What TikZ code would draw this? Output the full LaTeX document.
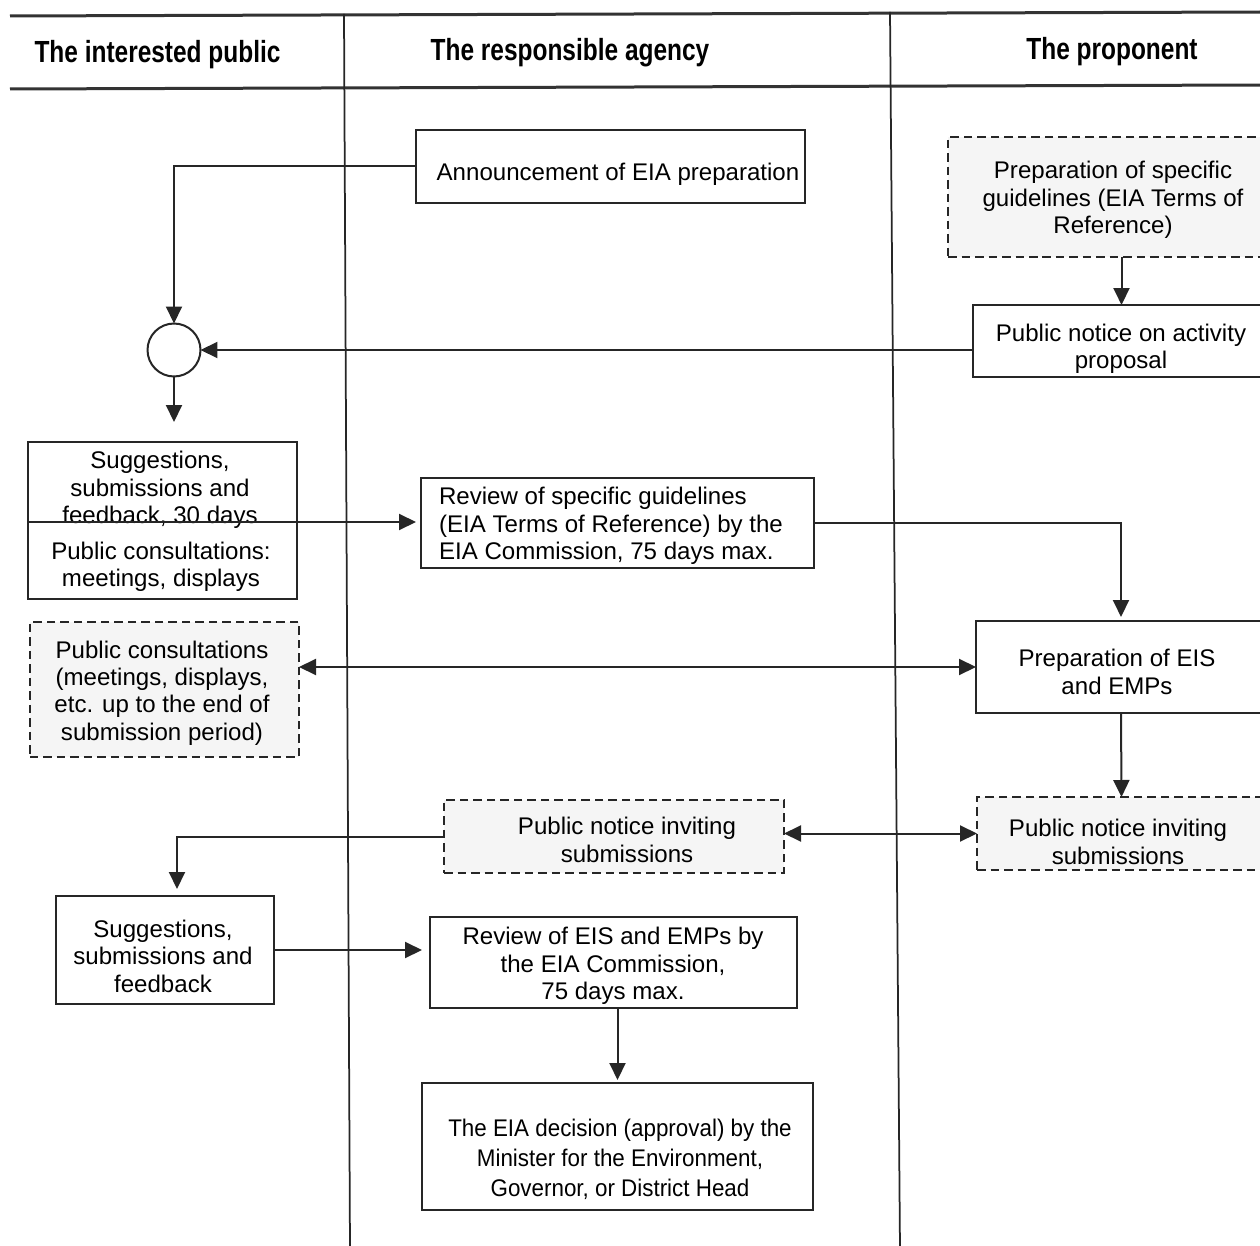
\documentclass[tikz,border=0pt]{standalone}
\usepackage{fontspec}
\setmainfont{Liberation Sans}
\newfontfamily\headfont[FakeStretch=0.8]{Liberation Sans Bold}
\newfontfamily\narrowfont[FakeStretch=0.93]{Liberation Sans}
\usetikzlibrary{arrows.meta,fit}
\begin{document}
\begin{tikzpicture}[x=0.02cm,y=-0.02cm,
  every node/.style={inner sep=0pt, outer sep=0pt},
  box/.style={draw=black!85, line width=0.045cm, fill=white},
  dbox/.style={draw=black!85, line width=0.045cm, dash pattern=on 0.17cm off 0.1cm, fill=black!4},
  txt/.style={align=center, font=\fontsize{13.7pt}{15.6pt}\selectfont},
  head/.style={anchor=base, font=\headfont\fontsize{17.4pt}{20pt}\selectfont},
  rule/.style={line width=0.06cm, draw=black!80},
  lane/.style={line width=0.035cm, draw=black!85},
  conn/.style={line width=0.04cm, draw=black!85, -{Triangle[length=0.34cm,width=0.32cm]}},
  both/.style={line width=0.04cm, draw=black!85, {Triangle[length=0.34cm,width=0.32cm]}-{Triangle[length=0.34cm,width=0.32cm]}},
]
\useasboundingbox (0,0) rectangle (1260,1246);

% swimlane frame
\draw[rule] (10,16) -- (1262,12);
\draw[rule] (10,89) -- (1262,85);
\draw[lane] (344,14) -- (350,1250);
\draw[lane] (890,12) -- (900,1250);

\node[head] (h1) at (157.5,63) {The interested public};
\node[head] (h2) at (570,61) {The responsible agency};
\node[head] (h3) at (1112,60) {The proponent};

% boxes
\node[box, fit={(416,130) (805,203)}] (ann) {};
\node[dbox, fit={(948,137) (1278,257)}] (guide) {};
\node[box, fit={(973,305) (1270,377)}] (pubnot) {};
\node[circle, draw=black!85, line width=0.04cm, minimum size=1.06cm, fill=white] (join) at (174,350) {};
\node[box, fit={(28,442) (297,522)}] (sugg) {};
\node[box, fit={(28,522) (297,599)}] (meet) {};
\node[box, fit={(421,478) (814,568)}] (rev1) {};
\node[dbox, fit={(30,622) (299,757)}] (cons) {};
\node[box, fit={(976,621) (1266,713)}] (prep) {};
\node[dbox, fit={(444,800) (784,873)}] (inv1) {};
\node[dbox, fit={(977,797) (1266,870)}] (inv2) {};
\node[box, fit={(56,896) (274,1004)}] (fb) {};
\node[box, fit={(430,917) (797,1008)}] (rev2) {};
\node[box, fit={(422,1083) (813,1210)}] (dec) {};

% box texts
\node[txt] (annT) at (618,174) {Announcement of EIA preparation};
\node[txt] (guideT) at (1113,200) {Preparation of specific\\guidelines (EIA Terms of\\Reference)};
\node[txt] (pubnotT) at (1121,349) {Public notice on activity\\proposal};
\node[txt] (suggT) at (160,490) {Suggestions,\\submissions and\\feedback, 30 days};
\node[txt] (meetT) at (161,567) {Public consultations:\\meetings, displays};
\node[txt, align=left] (rev1T) at (611,526) {Review of specific guidelines\\(EIA Terms of Reference) by the\\EIA Commission, 75 days max.};
\node[txt] (consT) at (162,693) {Public consultations\\(meetings, displays,\\etc. up to the end of\\submission period)};
\node[txt] (prepT) at (1117,672) {Preparation of EIS\\and EMPs};
\node[txt] (inv1T) at (627,840) {Public notice inviting\\submissions};
\node[txt] (inv2T) at (1118,842) {Public notice inviting\\submissions};
\node[txt] (fbT) at (163,956) {Suggestions,\\submissions and\\feedback};
\node[txt] (rev2T) at (613,966) {Review of EIS and EMPs by\\the EIA Commission,\\75 days max.};
\node[txt, font=\narrowfont\fontsize{13.7pt}{17pt}\selectfont] (decT) at (620,1159) {The EIA decision (approval) by the\\Minister for the Environment,\\Governor, or District Head};

% connectors
\draw[conn] (ann.west) -| (join.north);
\draw[conn] (pubnot.north |- guide.south) -- (pubnot.north);
\draw[conn] (pubnot.west |- join.east) -- (join.east);
\draw[conn, shorten >=0.4cm] (join.south) -- (join.south |- sugg.north);
\draw[conn, shorten >=0.1cm] (sugg.south west) -- (sugg.south west -| rev1.west);
\draw[conn, shorten >=0.08cm] (rev1.east) -| (prep.north);
\draw[both] (prep.west -| cons.east) -- (prep.west);
\draw[conn] (prep.south) -- (inv2.north);
\draw[both] (inv2.west -| inv1.east) -- (inv2.west);
\draw[conn, shorten >=0.14cm] (inv1.west) -| ([xshift=0.24cm]fb.north);
\draw[conn, shorten >=0.16cm] (fb.east) -- (fb.east -| rev2.west);
\draw[conn, shorten >=0.06cm] (dec.north |- rev2.south) -- (dec.north);
\end{tikzpicture}
\end{document}
